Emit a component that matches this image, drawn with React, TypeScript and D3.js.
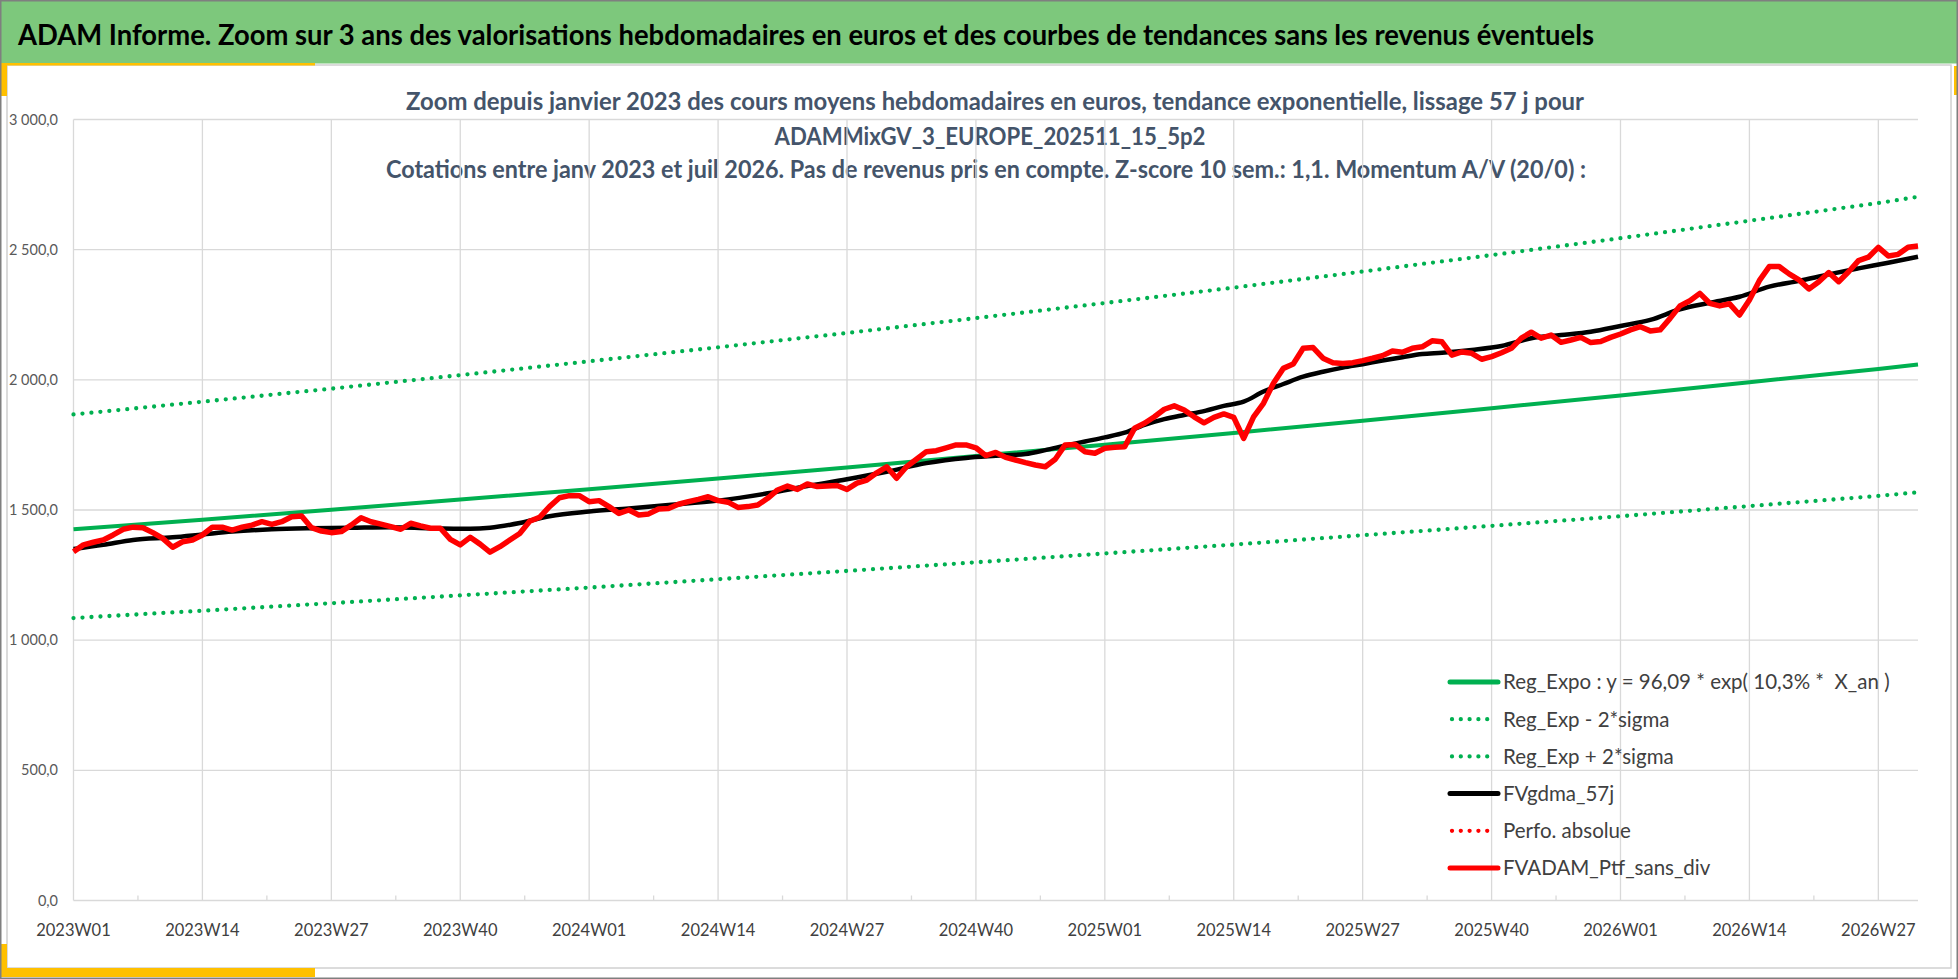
import * as d3 from 'd3';

// ---- données ----
const titleText =
  'ADAM Informe. Zoom sur 3 ans des valorisations hebdomadaires en euros et des courbes de tendances sans les revenus éventuels';
const subtitleLines = [
  'Zoom depuis janvier 2023 des cours moyens hebdomadaires en euros, tendance exponentielle, lissage 57 j pour',
  'ADAMMixGV_3_EUROPE_202511_15_5p2',
  'Cotations entre janv 2023 et juil 2026. Pas de revenus pris en compte. Z-score 10 sem.: 1,1. Momentum A/V (20/0) :',
];
const weekLabels = [
  '2023W01', '2023W14', '2023W27', '2023W40',
  '2024W01', '2024W14', '2024W27', '2024W40',
  '2025W01', '2025W14', '2025W27', '2025W40',
  '2026W01', '2026W14', '2026W27',
];
const yTicks = [0, 500, 1000, 1500, 2000, 2500, 3000];
const lastWeek = 186;

// tendances (semaine -> valeur)
const trendWeeks = [0, 13, 26, 39, 52, 65, 78, 91, 104, 117, 130, 143, 156, 169, 182, 186];
const regExpo = [1426, 1463, 1501, 1540, 1580, 1621, 1663, 1707, 1751, 1796, 1843, 1891, 1940, 1991, 2042, 2059];
const regMinus2Sigma = [1085, 1113, 1142, 1172, 1202, 1234, 1266, 1299, 1333, 1367, 1403, 1439, 1476, 1515, 1554, 1568];
const regPlus2Sigma = [1867, 1916, 1966, 2018, 2071, 2125, 2180, 2237, 2295, 2354, 2416, 2479, 2544, 2611, 2679, 2703];

// moyenne mobile 57 j
const gdmaWeeks = [
  0, 3, 6, 10, 13, 16, 20, 24, 28, 32, 36, 40, 42, 45, 48, 52, 56, 60, 65, 70, 74, 78, 82, 86, 90, 93, 96, 98,
  100, 102, 104, 106, 108, 110, 112, 114, 116, 118, 120, 122, 124, 126, 128, 130, 132, 134, 136, 138, 141, 144,
  147, 150, 153, 156, 159, 162, 165, 168, 171, 174, 177, 180, 183, 186,
];
const gdmaValues = [
  1350, 1366, 1385, 1395, 1406, 1417, 1426, 1430, 1432, 1434, 1430, 1428, 1432, 1450, 1476, 1494, 1506, 1519, 1536,
  1564, 1592, 1618, 1647, 1680, 1700, 1708, 1715, 1730, 1747, 1763, 1779, 1797, 1827, 1849, 1865, 1880, 1900, 1916,
  1955, 1984, 2012, 2031, 2047, 2060, 2074, 2087, 2099, 2104, 2115, 2130, 2160, 2172, 2185, 2207, 2230, 2271, 2296,
  2319, 2358, 2380, 2405, 2428, 2450, 2473,
];

// valorisation hebdomadaire, semaine 0 à 186
const ptfValues = [
  1340, 1366, 1376, 1385, 1404, 1426, 1434, 1432, 1413, 1391, 1357, 1378, 1385, 1404, 1434, 1434, 1423, 1434, 1442, 1455,
  1445, 1455, 1474, 1477, 1432, 1419, 1413, 1417, 1442, 1470, 1455, 1446, 1436, 1426, 1449, 1439, 1430, 1430, 1387, 1366,
  1395, 1369, 1338, 1359, 1385, 1410, 1457, 1472, 1513, 1547, 1555, 1555, 1532, 1536, 1513, 1487, 1500, 1481, 1485, 1504,
  1506, 1522, 1532, 1541, 1551, 1536, 1530, 1510, 1513, 1519, 1545, 1577, 1592, 1579, 1600, 1590, 1592, 1594, 1579, 1603,
  1615, 1643, 1666, 1622, 1666, 1695, 1724, 1728, 1739, 1750, 1750, 1739, 1709, 1721, 1702, 1692, 1682, 1673, 1666, 1695,
  1750, 1752, 1724, 1718, 1737, 1741, 1743, 1814, 1833, 1858, 1887, 1900, 1884, 1858, 1835, 1856, 1869, 1856, 1775, 1858,
  1910, 1987, 2044, 2061, 2121, 2124, 2083, 2066, 2063, 2066, 2074, 2083, 2093, 2111, 2106, 2121, 2127, 2150, 2146, 2095,
  2107, 2102, 2079, 2089, 2104, 2121, 2160, 2183, 2160, 2172, 2144, 2153, 2163, 2143, 2147, 2163, 2176, 2192, 2204, 2188,
  2192, 2236, 2284, 2304, 2332, 2294, 2284, 2292, 2249, 2307, 2381, 2435, 2435, 2407, 2384, 2349, 2377, 2412, 2377, 2415,
  2458, 2471, 2509, 2476, 2482, 2509, 2514,
];

const legendItems = [
  { label: 'Reg_Expo : y = 96,09 * exp( 10,3% *  X_an )', color: '#00B050', dotted: false },
  { label: 'Reg_Exp - 2*sigma', color: '#00B050', dotted: true },
  { label: 'Reg_Exp + 2*sigma', color: '#00B050', dotted: true },
  { label: 'FVgdma_57j', color: '#000000', dotted: false },
  { label: 'Perfo. absolue', color: '#FF0000', dotted: true },
  { label: 'FVADAM_Ptf_sans_div', color: '#FF0000', dotted: false },
];

const W = 1958;
const H = 979;
const FONT = 'Lato, "Open Sans", sans-serif';
const GRID = '#D9D9D9';
const GREEN = '#00B050';

const frLocale = d3.formatLocale({ decimal: ',', thousands: ' ', grouping: [3], currency: ['', ' €'] });
const fmtY = frLocale.format(',.1f');

export default function App() {
  const x = d3.scaleLinear().domain([0, lastWeek]).range([73.5, 1918]);
  const y = d3.scaleLinear().domain([0, 3000]).range([900.5, 119.5]);

  const line = d3
    .line<[number, number]>()
    .x((d) => x(d[0]))
    .y((d) => y(d[1]));
  const smooth = d3
    .line<[number, number]>()
    .x((d) => x(d[0]))
    .y((d) => y(d[1]))
    .curve(d3.curveMonotoneX);

  const pairs = (ws: number[], vs: number[]) => ws.map((w, i) => [w, vs[i]] as [number, number]);

  const majorWeeks = weekLabels.map((_, i) => i * 13);
  const minorWeeks = weekLabels.map((_, i) => i * 13 + 6.5).filter((w) => w < lastWeek);

  const legendX0 = 1450;
  const legendX1 = 1498;
  const legendY0 = 682;
  const legendStep = 37.2;

  return (
    <svg
      width={W}
      height={H}
      style={{ position: 'fixed', left: 0, top: 0, display: 'block', background: '#fff' }}
      fontFamily={FONT}
    >
      <rect x={0} y={0} width={W} height={H} fill="#fff" />
      {/* bandeau */}
      <rect x={1} y={1} width={W - 2} height={62.5} fill="#7DC87C" />
      <text
        x={18}
        y={45}
        fontSize={28.5}
        fontWeight={700}
        fill="#000"
        textLength={1576}
        lengthAdjust="spacingAndGlyphs"
      >
        {titleText}
      </text>

      {/* cadre du graphique */}
      <rect x={7} y={65} width={1944} height={903} fill="none" stroke="#D0D0D0" strokeWidth={1.5} />
      <rect x={0} y={63} width={315} height={2.5} fill="#FFC000" />
      <rect x={0} y={65} width={7} height={31} fill="#FFC000" />
      <rect x={0} y={944} width={7} height={33} fill="#FFC000" />
      <rect x={0} y={968} width={315} height={9} fill="#FFC000" />
      <rect x={1954} y={66} width={3} height={29} fill="#FFC000" />
      <rect x={0.75} y={0.75} width={W - 1.5} height={H - 1.5} fill="none" stroke="#7F7F7F" strokeWidth={1.5} />

      {/* titres */}
      {subtitleLines.map((t, i) => (
        <text
          key={i}
          x={[995, 990, 986][i]}
          y={[110, 145, 178][i]}
          textAnchor="middle"
          fontSize={24}
          fontWeight={700}
          fill="#44546A"
          textLength={[1178, 431, 1200][i]}
          lengthAdjust="spacingAndGlyphs"
        >
          {t}
        </text>
      ))}

      {/* grille */}
      {yTicks.map((v) => (
        <line key={'h' + v} x1={x(0)} x2={x(lastWeek)} y1={y(v)} y2={y(v)} stroke={GRID} strokeWidth={1.3} />
      ))}
      {majorWeeks.map((w) => (
        <line key={'v' + w} x1={x(w)} x2={x(w)} y1={y(3000)} y2={y(0)} stroke={GRID} strokeWidth={1.3} />
      ))}
      {minorWeeks.map((w) => (
        <line key={'m' + w} x1={x(w)} x2={x(w)} y1={y(0)} y2={y(0) - 5} stroke={GRID} strokeWidth={1.3} />
      ))}

      {/* axes */}
      {yTicks.map((v) => (
        <text key={'yl' + v} x={58} y={y(v)} dy="0.35em" textAnchor="end" fontSize={14.5} fill="#595959">
          {fmtY(v)}
        </text>
      ))}
      {weekLabels.map((lab, i) => (
        <text key={lab} x={x(i * 13)} y={936} textAnchor="middle" fontSize={16.5} fill="#404040">
          {lab}
        </text>
      ))}

      {/* séries */}
      <path d={line(pairs(trendWeeks, regExpo)) ?? ''} fill="none" stroke={GREEN} strokeWidth={4} />
      <path
        d={line(pairs(trendWeeks, regMinus2Sigma)) ?? ''}
        fill="none"
        stroke={GREEN}
        strokeWidth={4.3}
        strokeDasharray="0 9"
        strokeLinecap="round"
      />
      <path
        d={line(pairs(trendWeeks, regPlus2Sigma)) ?? ''}
        fill="none"
        stroke={GREEN}
        strokeWidth={4.3}
        strokeDasharray="0 9"
        strokeLinecap="round"
      />
      <path
        d={smooth(pairs(gdmaWeeks, gdmaValues)) ?? ''}
        fill="none"
        stroke="#000"
        strokeWidth={4.5}
        strokeLinejoin="round"
      />
      <path
        d={line(ptfValues.map((v, i) => [i, v] as [number, number])) ?? ''}
        fill="none"
        stroke="#FF0000"
        strokeWidth={5.5}
        strokeLinejoin="round"
      />

      {/* légende */}
      {legendItems.map((it, i) => {
        const cy = legendY0 + i * legendStep;
        return (
          <g key={it.label}>
            <line
              x1={legendX0 + (it.dotted ? 2 : 0)}
              x2={legendX1 - (it.dotted ? 2 : 0)}
              y1={cy}
              y2={cy}
              stroke={it.color}
              strokeWidth={it.dotted ? 4.3 : 5}
              strokeDasharray={it.dotted ? '0 8.8' : undefined}
              strokeLinecap="round"
            />
            <text
              x={legendX1 + 5}
              y={cy}
              dy="0.36em"
              fontSize={20.5}
              fill="#404040"
              style={{ whiteSpace: 'pre' }}
            >
              {it.label}
            </text>
          </g>
        );
      })}
    </svg>
  );
}
